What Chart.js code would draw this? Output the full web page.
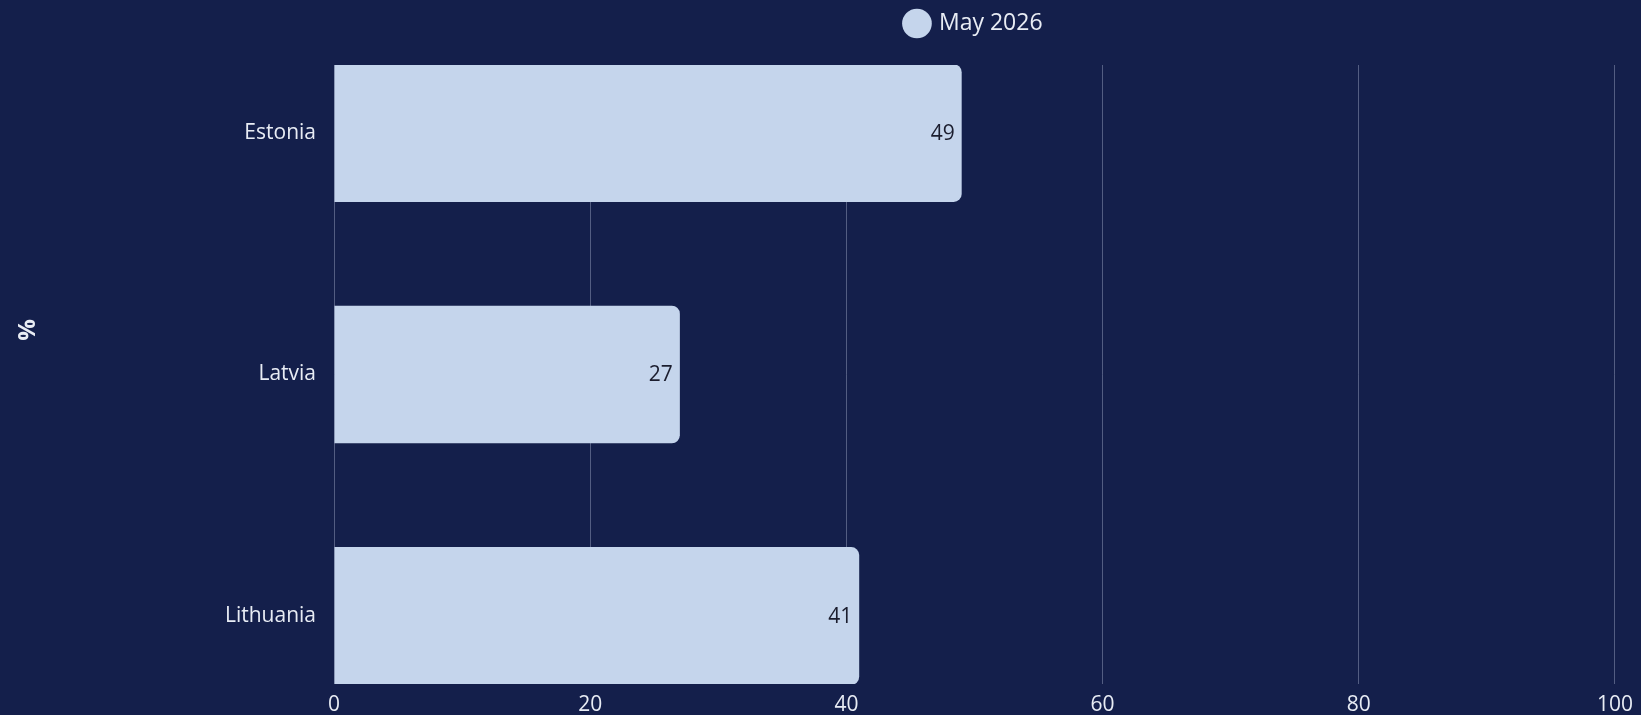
<!DOCTYPE html>
<html>
<head>
<meta charset="utf-8">
<script src="https://cdn.jsdelivr.net/npm/chart.js@4/dist/chart.umd.min.js"></script>
<style>
  html, body { margin: 0; padding: 0; background: #141f4b; }
  #wrap { width: 1641px; height: 715px; position: relative; }
</style>
</head>
<body>
<div id="wrap"><canvas id="c"></canvas></div>
<script>
const categories = ['Estonia', 'Latvia', 'Lithuania'];
const seriesName = 'May 2026';
const values = [49, 27, 41];
const xTicks = [0, 20, 40, 60, 80, 100];
const yAxisTitle = '%';

const BAR = '#c5d5ec';
const TEXT = '#e8ecf4';
const FONT = '"Open Sans", Lato, sans-serif';

const legendSpacer = {
  id: 'legendSpacer',
  afterInit(chart) {
    const lg = chart.legend;
    if (lg && !lg._patched) {
      const orig = lg.fit.bind(lg);
      lg.fit = function () { orig(); this.height += 20; };
      lg._patched = true;
    }
  }
};

const extras = {
  id: 'extras',
  afterDatasetsDraw(chart) {
    const ctx = chart.ctx;
    const meta = chart.getDatasetMeta(0);
    ctx.save();
    ctx.font = '21px ' + FONT;
    ctx.fillStyle = '#1b1d2e';
    ctx.textAlign = 'right';
    ctx.textBaseline = 'middle';
    meta.data.forEach((bar, i) => {
      ctx.fillText(String(values[i]), bar.x - 7, bar.y + 1);
    });
    ctx.restore();
  },
  afterDraw(chart) {
    const ctx = chart.ctx;
    ctx.save();
    ctx.translate(28, 330);
    ctx.rotate(-Math.PI / 2);
    ctx.font = 'bold 24px ' + FONT;
    ctx.fillStyle = TEXT;
    ctx.textAlign = 'center';
    ctx.textBaseline = 'middle';
    ctx.fillText(yAxisTitle, 0, 0);
    ctx.restore();
  }
};

new Chart(document.getElementById('c'), {
  type: 'bar',
  data: {
    datasets: [{
      label: seriesName,
      data: values.map((v, i) => ({ x: v, y: i })),
      backgroundColor: BAR,
      borderRadius: 8,
      borderSkipped: 'start',
      barPercentage: 1,
      categoryPercentage: 0.57
    }]
  },
  options: {
    indexAxis: 'y',
    responsive: true,
    maintainAspectRatio: false,
    animation: false,
    layout: { padding: { left: 0, right: 25, top: 2, bottom: 0 } },
    plugins: {
      legend: {
        position: 'top',
        fullSize: false,
        labels: {
          usePointStyle: true,
          pointStyle: 'circle',
          boxWidth: 21,
          boxHeight: 21,
          padding: 10,
          color: TEXT,
          font: { family: FONT, size: 23 }
        }
      },
      tooltip: { enabled: false }
    },
    scales: {
      x: {
        type: 'linear',
        min: 0,
        max: 100,
        afterBuildTicks: s => { s.ticks = xTicks.map(v => ({ value: v })); },
        afterFit: s => { s.height = 31; },
        grid: { color: 'rgba(200,210,235,0.35)', lineWidth: 1, drawTicks: false },
        border: { display: false },
        ticks: { color: TEXT, font: { family: FONT, size: 21 }, padding: 8, maxRotation: 0 }
      },
      y: {
        type: 'linear',
        offset: false,
        reverse: true,
        min: -0.282,
        max: 2.282,
        afterBuildTicks: s => { s.ticks = categories.map((_, i) => ({ value: i })); },
        afterFit: s => { s.width = 334; },
        grid: { display: false, offset: false },
        border: { display: false },
        ticks: {
          color: TEXT,
          font: { family: FONT, size: 21 },
          padding: 10,
          callback: v => categories[v] ?? ''
        }
      }
    }
  },
  plugins: [legendSpacer, extras]
});
</script>
</body>
</html>
